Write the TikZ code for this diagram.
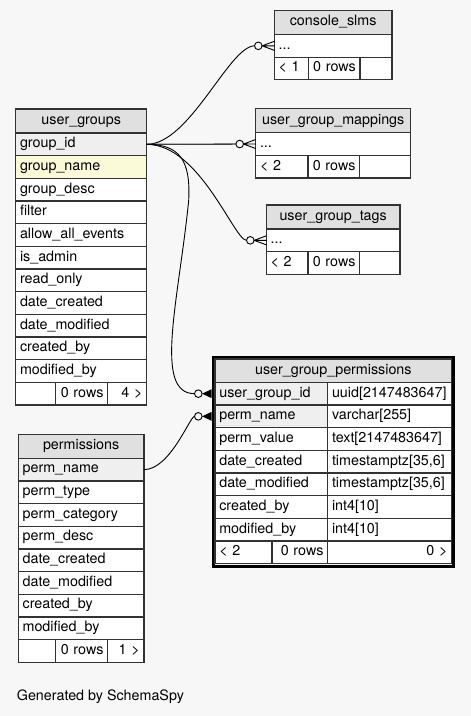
\documentclass[tikz,border=0pt]{standalone}
\usepackage{fontspec}
\setmainfont{TeX Gyre Heros}
\definecolor{bg}{RGB}{247,247,247}
\definecolor{hdrgray}{RGB}{224,224,224}
\definecolor{keygray}{RGB}{239,239,239}
\definecolor{idxyel}{RGB}{250,250,216}
\begin{document}
\begin{tikzpicture}[x=1bp, y=-1bp, font=\fontsize{14.3bp}{17bp}\selectfont, line cap=round,
		cell/.style={draw=black!80, line width=1.1bp, fill=white, anchor=north west, outer sep=0pt, inner xsep=4.3bp, inner ysep=0pt, minimum height=22.67bp, text height=10bp, text depth=3.3bp},
		col/.style={cell, minimum width=#1, text width=#1-8.6bp, align=left},
		rcol/.style={cell, minimum width=#1, text width=#1-8.6bp, align=right},
		hdr/.style={cell, fill=hdrgray, minimum width=#1, text width=#1-8.6bp, align=center, minimum height=24bp},
		key/.style={fill=keygray}, idx/.style={fill=idxyel},
		link/.style={line width=0.9bp},
		many/.pic={\draw[fill=bg,line width=0.9bp] (-16,0) circle (3.8bp);
			\draw[line width=0.9bp] (-12.2,0) -- (0,-4.5) (-12.2,0) -- (0,0) (-12.2,0) -- (0,4.5);},
		manyb/.pic={\draw[fill=bg,line width=0.9bp] (-13.4,0) circle (3.8bp);
			\fill (-9.6,0) -- (0,-4.5) -- (0,4.5) -- cycle;}]
	\fill[bg] (0,0) rectangle (471,716);
	\useasboundingbox (0,0) rectangle (471,716);
	% user_groups
	\node[hdr=131bp] (ug) at (15.7,109) {user\_groups};
	\node[col=131bp,key] (ug-gid) at (15.7,133) {group\_id};
	\node[col=131bp,idx] (ug-gname) at (15.7,155.67) {group\_name};
	\node[col=131bp] (ug-gdesc) at (15.7,178.33) {group\_desc};
	\node[col=131bp] (ug-filter) at (15.7,201) {filter};
	\node[col=131bp] (ug-allow) at (15.7,223.67) {allow\_all\_events};
	\node[col=131bp] (ug-admin) at (15.7,246.33) {is\_admin};
	\node[col=131bp] (ug-ro) at (15.7,269) {read\_only};
	\node[col=131bp] (ug-dc) at (15.7,291.67) {date\_created};
	\node[col=131bp] (ug-dm) at (15.7,314.33) {date\_modified};
	\node[col=131bp] (ug-cb) at (15.7,337) {created\_by};
	\node[col=131bp] (ug-mb) at (15.7,359.67) {modified\_by};
	\node[col=40bp] (ug-f1) at (15.7,382.33) {};
	\node[rcol=52bp] (ug-f2) at (55.7,382.33) {0 rows};
	\node[rcol=39bp] (ug-f3) at (107.7,382.33) {4 >};
	%===
	% permissions
	\node[hdr=125.7bp] (p) at (18.3,434.3) {permissions};
	\node[col=125.7bp,key] (p-name) at (18.3,458.3) {perm\_name};
	\node[col=125.7bp] (p-type) at (18.3,480.97) {perm\_type};
	\node[col=125.7bp] (p-cat) at (18.3,503.63) {perm\_category};
	\node[col=125.7bp] (p-desc) at (18.3,526.3) {perm\_desc};
	\node[col=125.7bp] (p-dc) at (18.3,548.97) {date\_created};
	\node[col=125.7bp] (p-dm) at (18.3,571.63) {date\_modified};
	\node[col=125.7bp] (p-cb) at (18.3,594.3) {created\_by};
	\node[col=125.7bp] (p-mb) at (18.3,616.97) {modified\_by};
	\node[col=37.4bp] (p-f1) at (18.3,639.63) {};
	\node[rcol=52bp] (p-f2) at (55.7,639.63) {0 rows};
	\node[rcol=36.3bp] (p-f3) at (107.7,639.63) {1 >};
	%===
	% console_slms, user_group_mappings, user_group_tags
	\node[hdr=117.7bp] (cs) at (274.3,10.5) {console\_slms};
	\node[col=117.7bp] (cs-row) at (274.3,34.5) {...};
	\node[col=34bp] (cs-f1) at (274.3,57.17) {< 1};
	\node[rcol=51.7bp] (cs-f2) at (308.3,57.17) {0 rows};
	\node[col=32bp] (cs-f3) at (360,57.17) {};
	\node[hdr=155bp] (ugm) at (255.7,108.7) {user\_group\_mappings};
	\node[col=155bp] (ugm-row) at (255.7,132.7) {...};
	\node[col=52.3bp] (ugm-f1) at (255.7,155.37) {< 2};
	\node[rcol=51.7bp] (ugm-f2) at (308,155.37) {0 rows};
	\node[col=51bp] (ugm-f3) at (359.7,155.37) {};
	\node[hdr=133.7bp] (ugt) at (266.3,205) {user\_group\_tags};
	\node[col=133.7bp] (ugt-row) at (266.3,229) {...};
	\node[col=41.7bp] (ugt-f1) at (266.3,251.67) {< 2};
	\node[rcol=51.7bp] (ugt-f2) at (308,251.67) {0 rows};
	\node[col=40.3bp] (ugt-f3) at (359.7,251.67) {};
	%===
	% user_group_permissions
	\draw[line width=3bp] (213.2,357.2) rectangle (453.5,566.2);
	\node[hdr=236.7bp, minimum height=23.33bp] (ugp) at (215,359) {user\_group\_permissions};
	\node[col=112.7bp,key] (ugp-uid) at (215,382.33) {user\_group\_id};
	\node[col=124bp] (ugp-uidt) at (327.7,382.33) {uuid[2147483647]};
	\node[col=112.7bp,key] (ugp-pname) at (215,405) {perm\_name};
	\node[col=124bp] (ugp-pnamet) at (327.7,405) {varchar[255]};
	\node[col=112.7bp] (ugp-pval) at (215,427.67) {perm\_value};
	\node[col=124bp] (ugp-pvalt) at (327.7,427.67) {text[2147483647]};
	\node[col=112.7bp] (ugp-dc) at (215,450.33) {date\_created};
	\node[col=124bp] (ugp-dct) at (327.7,450.33) {timestamptz[35,6]};
	\node[col=112.7bp] (ugp-dm) at (215,473) {date\_modified};
	\node[col=124bp] (ugp-dmt) at (327.7,473) {timestamptz[35,6]};
	\node[col=112.7bp] (ugp-cb) at (215,495.67) {created\_by};
	\node[col=124bp] (ugp-cbt) at (327.7,495.67) {int4[10]};
	\node[col=112.7bp] (ugp-mb) at (215,518.33) {modified\_by};
	\node[col=124bp] (ugp-mbt) at (327.7,518.33) {int4[10]};
	\node[col=57bp] (ugp-f1) at (215,541) {< 2};
	\node[rcol=55.7bp] (ugp-f2) at (272,541) {0 rows};
	\node[rcol=124bp] (ugp-f3) at (327.7,541) {0 >};
	%===
	% links
	\draw[link, shorten >=19.8bp] (ug-gid.east) .. controls +(43,0) and +(-45,0) .. (cs-row.west);
	\draw[link, line width=1.3bp, black!75, shorten >=19.8bp] (ug-gid.east) -- (ugm-row.west);
	\draw[link, shorten >=19.8bp] (ug-gid.east) .. controls +(53,0) and +(-32,0) .. (ugt-row.west);
	\draw[link, shorten >=20.5bp] (ug-gid.east) .. controls +(33,0) and +(2,-40) .. ++(42,56) .. controls +(-10,100) and +(-62,0) .. (ugp-uid.west);
	\draw[link, shorten >=20.5bp] (p-name.east) .. controls +(26,0) and +(-25,0) .. (ugp-pname.west);
	\pic at (cs-row.west) {many};
	\pic at (ugm-row.west) {many};
	\pic at (ugt-row.west) {many};
	\pic at ([xshift=-3.3bp]ugp-uid.west) {manyb};
	\pic at ([xshift=-3.3bp]ugp-pname.west) {manyb};
	\node[anchor=base west, inner sep=0pt] (gen) at (16.7,700.8) {Generated by SchemaSpy};
\end{tikzpicture}
\end{document}
